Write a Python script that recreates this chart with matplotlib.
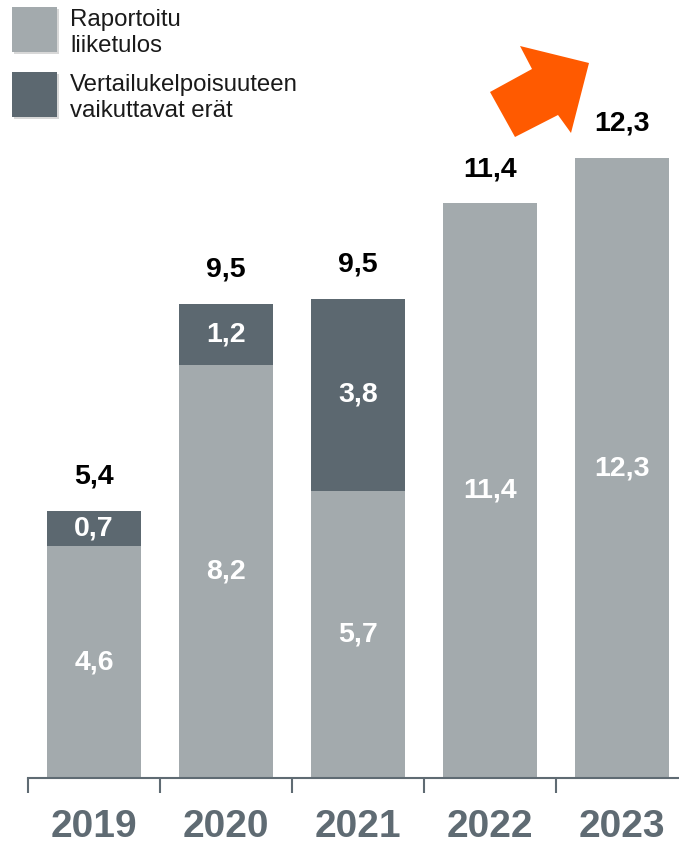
import matplotlib.pyplot as plt
import matplotlib.patches as patches
from matplotlib.ticker import FixedLocator

# Data
years = ["2019", "2020", "2021", "2022", "2023"]
reported = [4.6, 8.2, 5.7, 11.4, 12.3]
items = [0.7, 1.2, 3.8, 0.0, 0.0]
totals = ["5,4", "9,5", "9,5", "11,4", "12,3"]
legend_labels = ["Raportoitu\nliiketulos", "Vertailukelpoisuuteen\nvaikuttavat erät"]

light = "#a3aaad"
dark = "#5c6870"
axis_col = "#5f6b73"
font = ["Liberation Sans", "DejaVu Sans"]

W, H = 679, 848
fig = plt.figure(figsize=(W / 100, H / 100), dpi=100)

# axes from x=28px to right edge, baseline at y=778px
ax = fig.add_axes([28 / W, (H - 778) / H, (W - 28) / W, 756 / H])
xs = list(range(len(years)))
ax.set_xlim(-0.5, 4.43)
ax.set_ylim(0, 15)

b1 = ax.bar(xs, reported, width=0.71, color=light, zorder=2)
b2 = ax.bar(xs, items, width=0.71, bottom=reported, color=dark, zorder=2)

fmt = lambda v: f"{v:.1f}".replace(".", ",")
for rect, v in zip(b1, reported):
    ax.text(rect.get_x() + rect.get_width() / 2, v / 2, fmt(v), ha="center", va="center",
            color="white", fontsize=20.5, fontweight="bold", family=font, zorder=4)
for rect, base, v in zip(b2, reported, items):
    if v <= 0:
        continue
    ax.text(rect.get_x() + rect.get_width() / 2, base + v / 2, fmt(v), ha="center", va="center",
            color="white", fontsize=20.5, fontweight="bold", family=font, zorder=4,
            bbox=dict(boxstyle="square,pad=0.1", facecolor=dark, edgecolor="none"))
for x, base, v, t in zip(xs, reported, items, totals):
    ax.text(x, base + v + 0.68, t, ha="center", va="center", color="black",
            fontsize=20.5, fontweight="bold", family=font, zorder=4)

# axis styling
for s in ["top", "right", "left"]:
    ax.spines[s].set_visible(False)
ax.spines["bottom"].set_color(axis_col)
ax.spines["bottom"].set_linewidth(1.5)
ax.set_yticks([])
ax.set_xticks(xs)
ax.set_xticklabels(years)
ax.xaxis.set_minor_locator(FixedLocator([-0.5, 0.5, 1.5, 2.5, 3.5]))
ax.tick_params(axis="x", which="major", length=0, pad=22)
ax.tick_params(axis="x", which="minor", length=11, width=1.5, color=axis_col, direction="out")
for lab in ax.get_xticklabels():
    lab.set_fontsize(28)
    lab.set_fontweight("bold")
    lab.set_color(axis_col)
    lab.set_family(font)

# legend (manual)
leg_cols = [light, dark]
leg_tops = [7, 72]
for col, top, lab in zip(leg_cols, leg_tops, legend_labels):
    shadow = patches.Rectangle(((12 + 2) / W, 1 - (top + 47) / H), 45 / W, 45 / H,
                               transform=fig.transFigure, facecolor="#d8d8d8",
                               edgecolor="none", zorder=1)
    fig.patches.append(shadow)
    sq = patches.Rectangle((12 / W, 1 - (top + 45) / H), 45 / W, 45 / H,
                           transform=fig.transFigure, facecolor=col, edgecolor="none", zorder=2)
    fig.patches.append(sq)
    fig.text(70 / W, 1 - (top + 26) / H, lab, ha="left", va="center", fontsize=17.3,
             color="#1a1a1a", family=font, linespacing=1.25)

# orange arrow
arrow_px = [(490, 92), (532, 69), (520, 46), (589, 63), (571, 133), (558, 115), (515, 137)]
arrow = patches.Polygon([(x / W, 1 - y / H) for x, y in arrow_px], closed=True,
                        transform=fig.transFigure, facecolor="#ff5a00", edgecolor="none", zorder=3)
fig.patches.append(arrow)

fig.savefig("out.png", dpi=100)
